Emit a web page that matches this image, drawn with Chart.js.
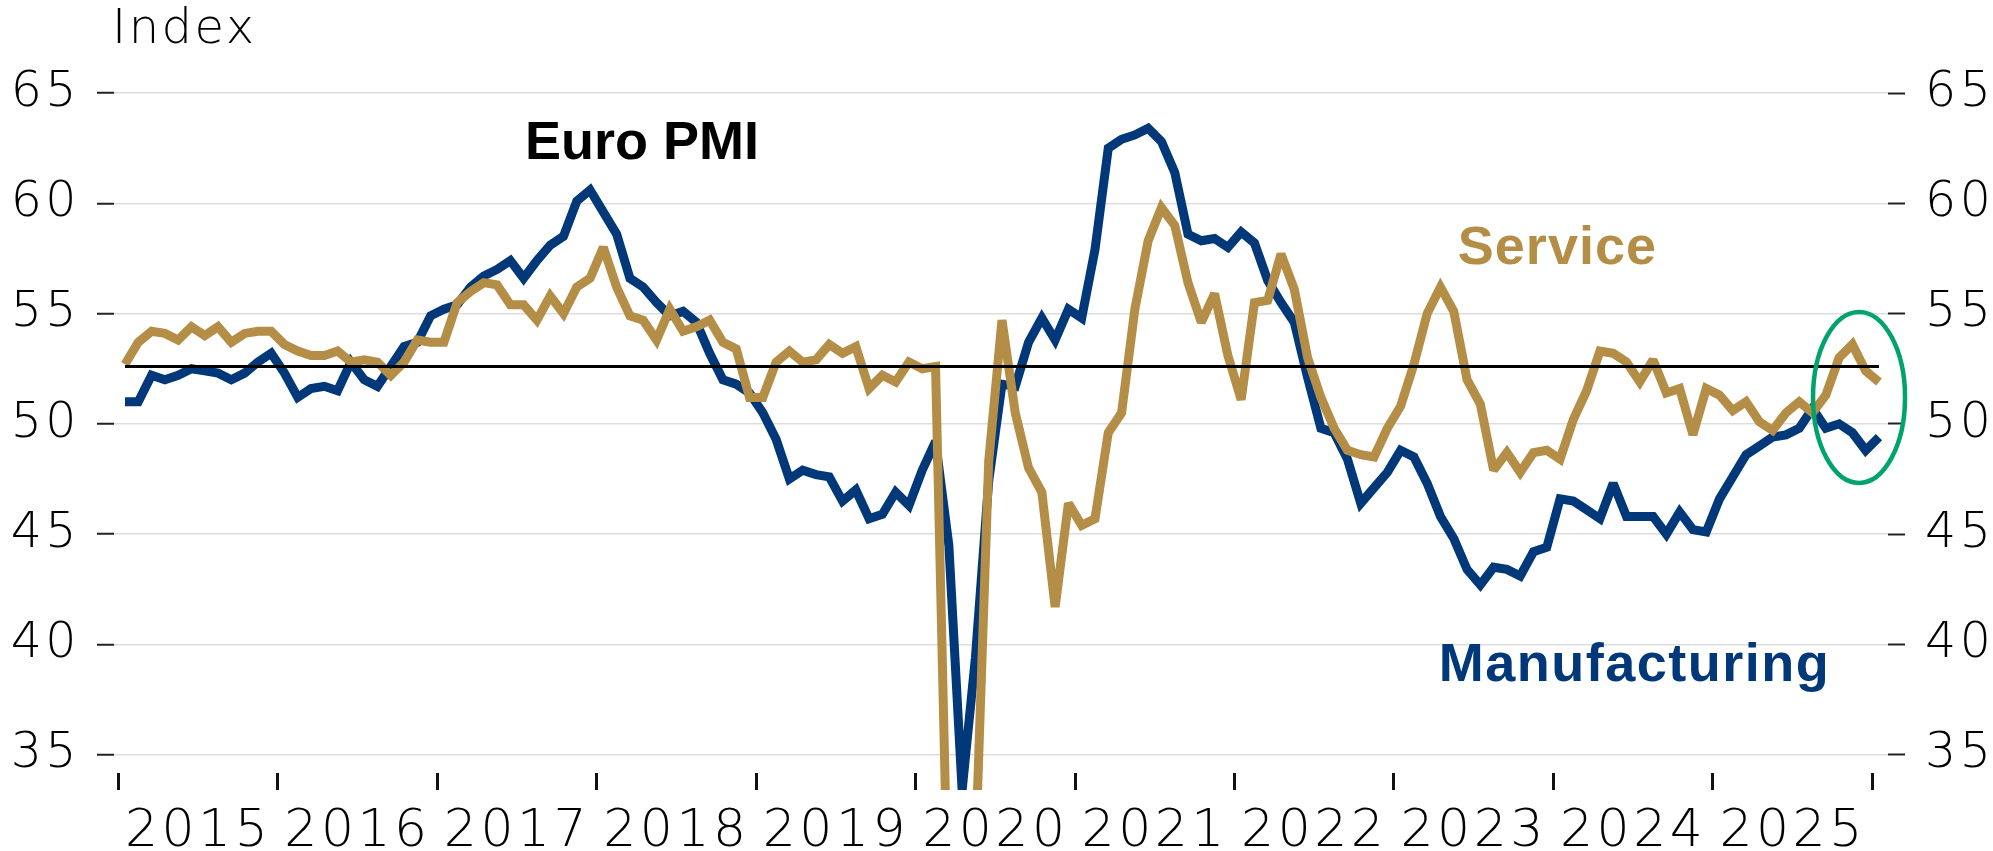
<!DOCTYPE html>
<html>
<head>
<meta charset="utf-8">
<script src="https://cdn.jsdelivr.net/npm/chart.js@4.4.1/dist/chart.umd.min.js"></script>
<style>
  html, body { margin: 0; padding: 0; background: #ffffff; }
  #wrap { width: 1993px; height: 851px; position: relative; }
</style>
</head>
<body>
<div id="wrap"><canvas id="c" width="1993" height="851"></canvas></div>
<script>
// ---------- data ----------
const years = ['2015', '2016', '2017', '2018', '2019', '2020', '2021', '2022', '2023', '2024', '2025'];

// Monthly values, Jan 2015 .. Jan 2026
const manufacturing = [
  51.0, 51.0, 52.2, 52.0, 52.2, 52.5, 52.4, 52.3, 52.0, 52.3, 52.8, 53.2,
  52.3, 51.2, 51.6, 51.7, 51.5, 52.8, 52.0, 51.7, 52.6, 53.5, 53.7, 54.9,
  55.2, 55.4, 56.2, 56.7, 57.0, 57.4, 56.6, 57.4, 58.1, 58.5, 60.1, 60.6,
  59.6, 58.6, 56.6, 56.2, 55.5, 54.9, 55.1, 54.6, 53.2, 52.0, 51.8, 51.4,
  50.5, 49.3, 47.5, 47.9, 47.7, 47.6, 46.5, 47.0, 45.7, 45.9, 46.9, 46.3,
  47.9, 49.2, 44.5, 33.4, 39.4, 47.4, 51.8, 51.7, 53.7, 54.8, 53.8, 55.2,
  54.8, 57.9, 62.5, 62.9, 63.1, 63.4, 62.8, 61.4, 58.6, 58.3, 58.4, 58.0,
  58.7, 58.2, 56.5, 55.5, 54.6, 52.1, 49.8, 49.6, 48.4, 46.4, 47.1, 47.8,
  48.8, 48.5, 47.3, 45.8, 44.8, 43.4, 42.7, 43.5, 43.4, 43.1, 44.2, 44.4,
  46.6, 46.5, 46.1, 45.7, 47.3, 45.8, 45.8, 45.8, 45.0, 46.0, 45.2, 45.1,
  46.6, 47.6, 48.6, 49.0, 49.4, 49.5, 49.8, 50.7, 49.8, 50.0, 49.6, 48.8,
  49.4
];

const services = [
  52.7, 53.7, 54.2, 54.1, 53.8, 54.4, 54.0, 54.4, 53.7, 54.1, 54.2, 54.2,
  53.6, 53.3, 53.1, 53.1, 53.3, 52.8, 52.9, 52.8, 52.2, 52.8, 53.8, 53.7,
  53.7, 55.5, 56.0, 56.4, 56.3, 55.4, 55.4, 54.7, 55.8, 55.0, 56.2, 56.6,
  58.0, 56.2, 54.9, 54.7, 53.8, 55.2, 54.2, 54.4, 54.7, 53.7, 53.4, 51.2,
  51.2, 52.8, 53.3, 52.8, 52.9, 53.6, 53.2, 53.5, 51.6, 52.2, 51.9, 52.8,
  52.5, 52.6, 26.4, 12.0, 30.5, 48.3, 54.7, 50.5, 48.0, 46.9, 41.7, 46.4,
  45.4, 45.7, 49.6, 50.5, 55.2, 58.3, 59.8, 59.0, 56.4, 54.6, 55.9, 53.1,
  51.1, 55.5, 55.6, 57.7, 56.1, 53.0, 51.2, 49.8, 48.8, 48.6, 48.5, 49.8,
  50.8, 52.7, 55.0, 56.2, 55.1, 52.0, 50.9, 47.9, 48.7, 47.8, 48.7, 48.8,
  48.4, 50.2, 51.5, 53.3, 53.2, 52.8, 51.9, 52.9, 51.4, 51.6, 49.5, 51.6,
  51.3, 50.6, 51.0, 50.1, 49.7, 50.5, 51.0, 50.5, 51.3, 53.0, 53.6, 52.4,
  51.9
];

const referenceLevel = 52.6;
const yTickValues = [35, 40, 45, 50, 55, 60, 65];

// ---------- styling / layout ----------
const NAVY = '#00387a';
const GOLD = '#b48e46';
const GREEN = '#00a36c';
const AXIS_FONT = 'DejaVu Sans';
const LABEL_FONT = '"Liberation Sans", Arial, sans-serif';

const lastIndex = manufacturing.length - 1;
const toPoints = arr => arr.map((v, i) => ({ x: i, y: v }));

const textNotes = [
  { text: 'Euro PMI', x: 38.9, y: 62.0, color: '#000000', spacing: '0px' },
  { text: 'Service', x: 107.8, y: 57.25, color: GOLD, spacing: '1px' },
  { text: 'Manufacturing', x: 113.6, y: 38.35, color: NAVY, spacing: '1.5px' }
];
const ringNote = { x: 130.5, y: 51.2, rx: 46, ry: 85.5 };

const notesPlugin = {
  id: 'notes',
  beforeDraw(chart) {
    // wider tracking for the thin axis font
    chart.ctx.letterSpacing = '3.5px';
  },
  beforeDatasetsDraw(chart) {
    chart.ctx.miterLimit = 2.2;
  },
  afterDraw(chart) {
    const ctx = chart.ctx;
    const xs = chart.scales.x, ys = chart.scales.y;
    ctx.save();
    // axis title
    ctx.fillStyle = '#000';
    ctx.letterSpacing = '2.5px';
    ctx.font = '200 48px "' + AXIS_FONT + '"';
    ctx.textAlign = 'left';
    ctx.textBaseline = 'alphabetic';
    ctx.fillText('Index', 112, 43);
    // series labels
    ctx.font = 'bold 54px ' + LABEL_FONT;
    ctx.textAlign = 'center';
    textNotes.forEach(n => {
      ctx.letterSpacing = n.spacing;
      ctx.fillStyle = n.color;
      ctx.fillText(n.text, xs.getPixelForValue(n.x), ys.getPixelForValue(n.y));
    });
    // ellipse highlight
    ctx.beginPath();
    ctx.ellipse(xs.getPixelForValue(ringNote.x), ys.getPixelForValue(ringNote.y), ringNote.rx, ringNote.ry, 0, 0, Math.PI * 2);
    ctx.strokeStyle = GREEN;
    ctx.lineWidth = 4.5;
    ctx.stroke();
    ctx.restore();
  }
};

const lineClip = { left: 0, top: 0, right: 0, bottom: 17 };

new Chart(document.getElementById('c'), {
  type: 'line',
  data: {
    datasets: [
      {
        label: 'Reference',
        data: [{ x: 0, y: referenceLevel }, { x: lastIndex, y: referenceLevel }],
        borderColor: '#000000', borderWidth: 3, pointRadius: 0, yAxisID: 'y'
      },
      {
        label: 'Service',
        data: toPoints(services),
        borderColor: GOLD, borderWidth: 9, pointRadius: 0, tension: 0,
        borderJoinStyle: 'miter', borderCapStyle: 'butt', clip: lineClip, yAxisID: 'y'
      },
      {
        label: 'Manufacturing',
        data: toPoints(manufacturing),
        borderColor: NAVY, borderWidth: 9, pointRadius: 0, tension: 0,
        borderJoinStyle: 'miter', borderCapStyle: 'butt', clip: lineClip, yAxisID: 'y'
      }
    ]
  },
  options: {
    responsive: false,
    devicePixelRatio: 1,
    animation: false,
    layout: { padding: { top: 93, left: 0, right: 0, bottom: 0 } },
    plugins: { legend: { display: false }, tooltip: { enabled: false }, title: { display: false } },
    scales: {
      x: {
        type: 'linear', position: 'bottom', min: -0.828, max: 132.68,
        afterBuildTicks: s => { s.ticks = years.map((y, k) => ({ value: k * 12 + 5.5 })); },
        afterFit: s => { s.height = 78; },
        ticks: {
          callback: (v, idx) => years[idx],
          font: { family: AXIS_FONT, size: 52, weight: 200 },
          color: '#000', padding: 11, maxRotation: 0, autoSkip: false
        },
        grid: { display: true, offset: true, drawOnChartArea: false, drawTicks: true,
                tickLength: 17, tickColor: '#111', tickWidth: 3, lineWidth: 3, color: '#111' },
        border: { display: false }
      },
      y: {
        type: 'linear', position: 'left', min: 34.17, max: 65,
        afterBuildTicks: s => { s.ticks = yTickValues.map(v => ({ value: v })); },
        afterFit: s => { s.width = 114; },
        ticks: { font: { family: AXIS_FONT, size: 49, weight: 200 }, color: '#000', padding: 17,
                 callback: v => String(v) },
        grid: { color: '#dddddd', lineWidth: 1.5, tickColor: '#222', tickWidth: 2, tickLength: 17 },
        border: { display: false }
      },
      y2: {
        type: 'linear', position: 'right', min: 34.17, max: 65,
        afterBuildTicks: s => { s.ticks = yTickValues.map(v => ({ value: v })); },
        afterFit: s => { s.width = 105; },
        ticks: { font: { family: AXIS_FONT, size: 49, weight: 200 }, color: '#000', padding: 20,
                 callback: v => String(v) },
        grid: { drawOnChartArea: false, tickColor: '#222', tickWidth: 2, tickLength: 17 },
        border: { display: false }
      }
    }
  },
  plugins: [notesPlugin]
});
</script>
</body>
</html>
